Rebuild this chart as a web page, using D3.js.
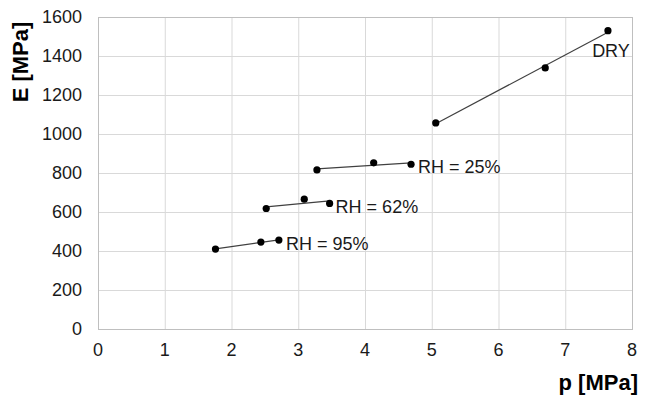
<!DOCTYPE html>
<html>
    <head>
        <meta charset="utf-8">
        <title>E vs p</title>
        <script src="https://d3js.org/d3.v7.min.js"></script>
        <style>
            body {
                margin: 0;
                background-color: #FFFFFF;
                font-family: Arial, 'Liberation Sans', sans-serif;
            }
            .grid line {
                stroke: #D9D9D9;
                stroke-width: 1;
            }
            .tick-label {
                font-size: 18px;
                fill: #1a1a1a;
            }
            .series-label {
                font-size: 18px;
                fill: #1a1a1a;
            }
            .axis-title {
                font-size: 22px;
                font-weight: bold;
                fill: #000000;
            }
        </style>
    </head>
    <body>
        <svg id="chart"></svg>
        <script>
            // data
            const seriesNames = ["DRY", "RH = 25%", "RH = 62%", "RH = 95%"];
            const dryP = [5.06, 6.70, 7.64];
            const dryE = [1057, 1339, 1530];
            const rh25P = [3.28, 4.13, 4.69];
            const rh25E = [816, 852, 845];
            const rh62P = [2.52, 3.09, 3.47];
            const rh62E = [618, 666, 644];
            const rh95P = [1.76, 2.44, 2.71];
            const rh95E = [410, 446, 456];
            const xTicks = [0, 1, 2, 3, 4, 5, 6, 7, 8];
            const yTicks = [0, 200, 400, 600, 800, 1000, 1200, 1400, 1600];

            const width = 659;
            const height = 396;
            const margin = { top: 17, right: 27, bottom: 67, left: 98 };

            const svg = d3.select("#chart")
                .attr("width", width)
                .attr("height", height);

            const x = d3.scaleLinear().domain([0, 8]).range([margin.left, width - margin.right]);
            const y = d3.scaleLinear().domain([0, 1600]).range([height - margin.bottom, margin.top]);

            // gridlines
            const grid = svg.append("g").attr("class", "grid");
            grid.selectAll(".vg")
                .data(xTicks)
                .enter()
                .append("line")
                .attr("x1", d => x(d) + 0.5).attr("x2", d => x(d) + 0.5)
                .attr("y1", y(1600)).attr("y2", y(0));
            grid.selectAll(".hg")
                .data(yTicks)
                .enter()
                .append("line")
                .attr("x1", x(0)).attr("x2", x(8))
                .attr("y1", d => Math.round(y(d)) + 0.5).attr("y2", d => Math.round(y(d)) + 0.5);

            // frame
            svg.append("rect")
                .attr("x", x(0) + 0.5)
                .attr("y", Math.round(y(1600)) + 0.5)
                .attr("width", x(8) - x(0))
                .attr("height", Math.round(y(0)) - Math.round(y(1600)))
                .attr("fill", "none")
                .attr("stroke", "#BFBFBF");

            // tick labels
            svg.selectAll(".xtl")
                .data(xTicks)
                .enter()
                .append("text")
                .attr("class", "tick-label")
                .attr("x", d => x(d))
                .attr("y", y(0) + 27)
                .attr("text-anchor", "middle")
                .text(d => d);
            svg.selectAll(".ytl")
                .data(yTicks)
                .enter()
                .append("text")
                .attr("class", "tick-label")
                .attr("x", x(0) - 16)
                .attr("y", d => y(d))
                .attr("dy", "0.35em")
                .attr("text-anchor", "end")
                .text(d => d);

            // axis titles
            svg.append("text")
                .attr("class", "axis-title")
                .attr("x", 638)
                .attr("y", 390)
                .attr("text-anchor", "end")
                .text("p [MPa]");
            svg.append("text")
                .attr("class", "axis-title")
                .attr("transform", "translate(28, 62) rotate(-90)")
                .attr("text-anchor", "middle")
                .text("E [MPa]");

            // linear trendline over each series
            function fit(ps, es) {
                const mx = d3.mean(ps), my = d3.mean(es);
                const sxy = d3.sum(ps, (p, i) => (p - mx) * (es[i] - my));
                const sxx = d3.sum(ps, p => (p - mx) * (p - mx));
                const b = sxy / sxx;
                const x0 = d3.min(ps), x1 = d3.max(ps);
                return [[x0, my + b * (x0 - mx)], [x1, my + b * (x1 - mx)]];
            }

            const series = [
                { name: seriesNames[0], p: dryP, e: dryE, dx: 3, dy: 26, anchor: "middle" },
                { name: seriesNames[1], p: rh25P, e: rh25E, dx: 7, dy: 9, anchor: "start" },
                { name: seriesNames[2], p: rh62P, e: rh62E, dx: 6, dy: 10, anchor: "start" },
                { name: seriesNames[3], p: rh95P, e: rh95E, dx: 7, dy: 10, anchor: "start" }
            ];

            const line = d3.line().x(d => x(d[0])).y(d => y(d[1]));

            series.forEach(s => {
                svg.append("path")
                    .attr("d", line(fit(s.p, s.e)))
                    .attr("fill", "none")
                    .attr("stroke", "#404040")
                    .attr("stroke-width", 1.2);

                svg.selectAll(null)
                    .data(s.p)
                    .enter()
                    .append("circle")
                    .attr("cx", (d) => x(d))
                    .attr("cy", (d, i) => y(s.e[i]))
                    .attr("r", 3.6)
                    .attr("fill", "#000000");

                const last = s.p.length - 1;
                svg.append("text")
                    .attr("class", "series-label")
                    .attr("x", x(s.p[last]) + s.dx)
                    .attr("y", y(s.e[last]) + s.dy)
                    .attr("text-anchor", s.anchor)
                    .text(s.name);
            });
        </script>
    </body>
</html>
